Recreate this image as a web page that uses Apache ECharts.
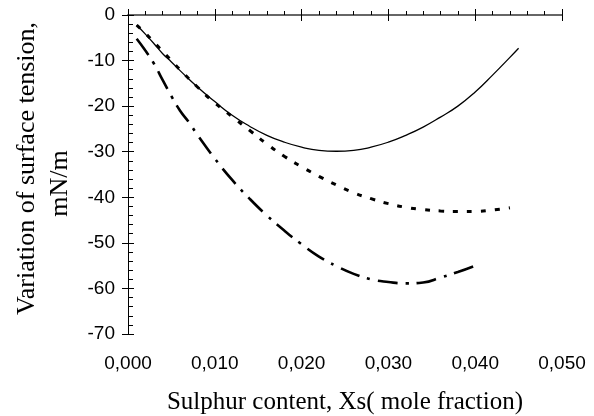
<!DOCTYPE html>
<html>
<head>
<meta charset="utf-8">
<script src="https://cdn.jsdelivr.net/npm/echarts@6/dist/echarts.min.js"></script>
<style>
  html, body { margin: 0; padding: 0; background: #fff; }
  #main { width: 594px; height: 416px; }
</style>
</head>
<body>
<div id="main"></div>
<script>
// x values (mole fraction) and surface tension variation (mN/m) for each curve
var solidX = [0.001, 0.002, 0.003, 0.004, 0.005, 0.006, 0.008, 0.010, 0.012, 0.014, 0.016, 0.018, 0.020, 0.022, 0.024, 0.026, 0.028, 0.030, 0.032, 0.034, 0.036, 0.038, 0.040, 0.042, 0.044, 0.045];
var solidY = [-2.2, -4.2, -6.3, -8.5, -10.3, -12.2, -15.8, -19.0, -22.0, -24.4, -26.4, -27.9, -29.0, -29.7, -29.9, -29.7, -29.0, -27.9, -26.4, -24.6, -22.4, -20.0, -16.9, -13.2, -9.3, -7.3];

var dottedX = [0.001, 0.002, 0.003, 0.004, 0.005, 0.006, 0.008, 0.010, 0.012, 0.014, 0.016, 0.018, 0.020, 0.022, 0.024, 0.026, 0.028, 0.030, 0.032, 0.034, 0.036, 0.038, 0.040, 0.042, 0.044];
var dottedY = [-2.2, -4.0, -6.0, -8.0, -10.0, -12.0, -15.8, -19.3, -22.3, -25.3, -28.3, -31.0, -33.3, -35.4, -37.3, -39.0, -40.3, -41.4, -42.2, -42.7, -43.0, -43.1, -43.1, -42.8, -42.3];

var dashDotX = [0.001, 0.002, 0.003, 0.004, 0.005, 0.006, 0.007, 0.008, 0.010, 0.012, 0.014, 0.016, 0.018, 0.020, 0.022, 0.024, 0.026, 0.028, 0.030, 0.032, 0.034, 0.036, 0.038, 0.040];
var dashDotY = [-5.2, -7.8, -10.7, -14.3, -17.8, -21.0, -23.5, -26.3, -31.5, -36.2, -40.3, -44.0, -47.3, -50.3, -53.0, -55.1, -56.8, -58.0, -58.6, -58.9, -58.7, -57.6, -56.4, -55.0];

var xMin = 0, xMax = 0.05, xStep = 0.01;
var yMin = -70, yMax = 0, yStep = 10;

function pairs(xs, ys) {
  return xs.map(function (x, i) { return [x, ys[i]]; });
}

var myChart = echarts.init(document.getElementById('main'));

var tickFont = { fontFamily: '"Liberation Sans", Arial, sans-serif', fontSize: 19, color: '#000' };
var serif = '"Liberation Serif", "Times New Roman", serif';

var option = {
  animation: false,
  grid: [
    { left: 128, right: 32, top: 15, bottom: 82, containLabel: false, outerBoundsMode: 'none' },
    // second grid only draws the outside half of the major ticks
    { left: 128, right: 32, top: 15, bottom: 82, containLabel: false, outerBoundsMode: 'none' }
  ],
  xAxis: [
    {
      type: 'value', gridIndex: 0,
      min: xMin, max: xMax, interval: xStep,
      name: 'Sulphur content, Xs( mole fraction)',
      nameLocation: 'middle',
      nameGap: 56,
      nameTextStyle: { fontFamily: serif, fontSize: 25, color: '#000' },
      axisLine: { lineStyle: { color: '#666', width: 2 } },
      axisTick: { inside: true, length: 6, lineStyle: { color: '#000' } },
      minorTick: { show: true, splitNumber: 5, length: 4, lineStyle: { color: '#000' } },
      splitLine: { show: false },
      axisLabel: Object.assign({ margin: 20, formatter: function (v) { return v.toFixed(3).replace('.', ','); } }, tickFont)
    },
    {
      type: 'value', gridIndex: 1,
      min: xMin, max: xMax, interval: xStep,
      axisLine: { show: false },
      axisTick: { inside: false, length: 6, lineStyle: { color: '#000' } },
      splitLine: { show: false },
      axisLabel: { show: false }
    }
  ],
  yAxis: [
    {
      type: 'value', gridIndex: 0,
      min: yMin, max: yMax, interval: yStep,
      name: '{a|Variation of surface tension,}\n{b|mN/m}',
      nameLocation: 'middle',
      nameRotate: 90,
      nameGap: 50,
      nameTextStyle: {
        fontFamily: serif, fontSize: 26, color: '#000',
        lineHeight: 33,
        rich: {
          a: { fontFamily: serif, fontSize: 26, lineHeight: 33, padding: [0, 0, 0, 12] },
          b: { fontFamily: serif, fontSize: 26, lineHeight: 33, padding: [0, 18, 0, 0] }
        }
      },
      axisLine: { lineStyle: { color: '#000', width: 1 } },
      axisTick: { inside: true, length: 6, lineStyle: { color: '#000' } },
      minorTick: { show: true, splitNumber: 5, length: 5, lineStyle: { color: '#000' } },
      splitLine: { show: false },
      axisLabel: Object.assign({ margin: 13 }, tickFont)
    },
    {
      type: 'value', gridIndex: 1,
      min: yMin, max: yMax, interval: yStep,
      axisLine: { show: false },
      axisTick: { inside: false, length: 6, lineStyle: { color: '#000' } },
      splitLine: { show: false },
      axisLabel: { show: false }
    }
  ],
  series: [
    {
      name: 'solid', type: 'line', smooth: true, showSymbol: false,
      xAxisIndex: 0, yAxisIndex: 0,
      lineStyle: { color: '#000', width: 1.3, type: 'solid' },
      data: pairs(solidX, solidY)
    },
    {
      name: 'dotted', type: 'line', smooth: true, showSymbol: false,
      xAxisIndex: 0, yAxisIndex: 0,
      lineStyle: { color: '#000', width: 3, type: [5, 9] },
      data: pairs(dottedX, dottedY)
    },
    {
      name: 'dashdot', type: 'line', smooth: true, showSymbol: false,
      xAxisIndex: 0, yAxisIndex: 0,
      lineStyle: { color: '#000', width: 2.6, type: [20, 8, 3, 8] },
      data: pairs(dashDotX, dashDotY)
    }
  ]
};

myChart.setOption(option);
</script>
</body>
</html>
